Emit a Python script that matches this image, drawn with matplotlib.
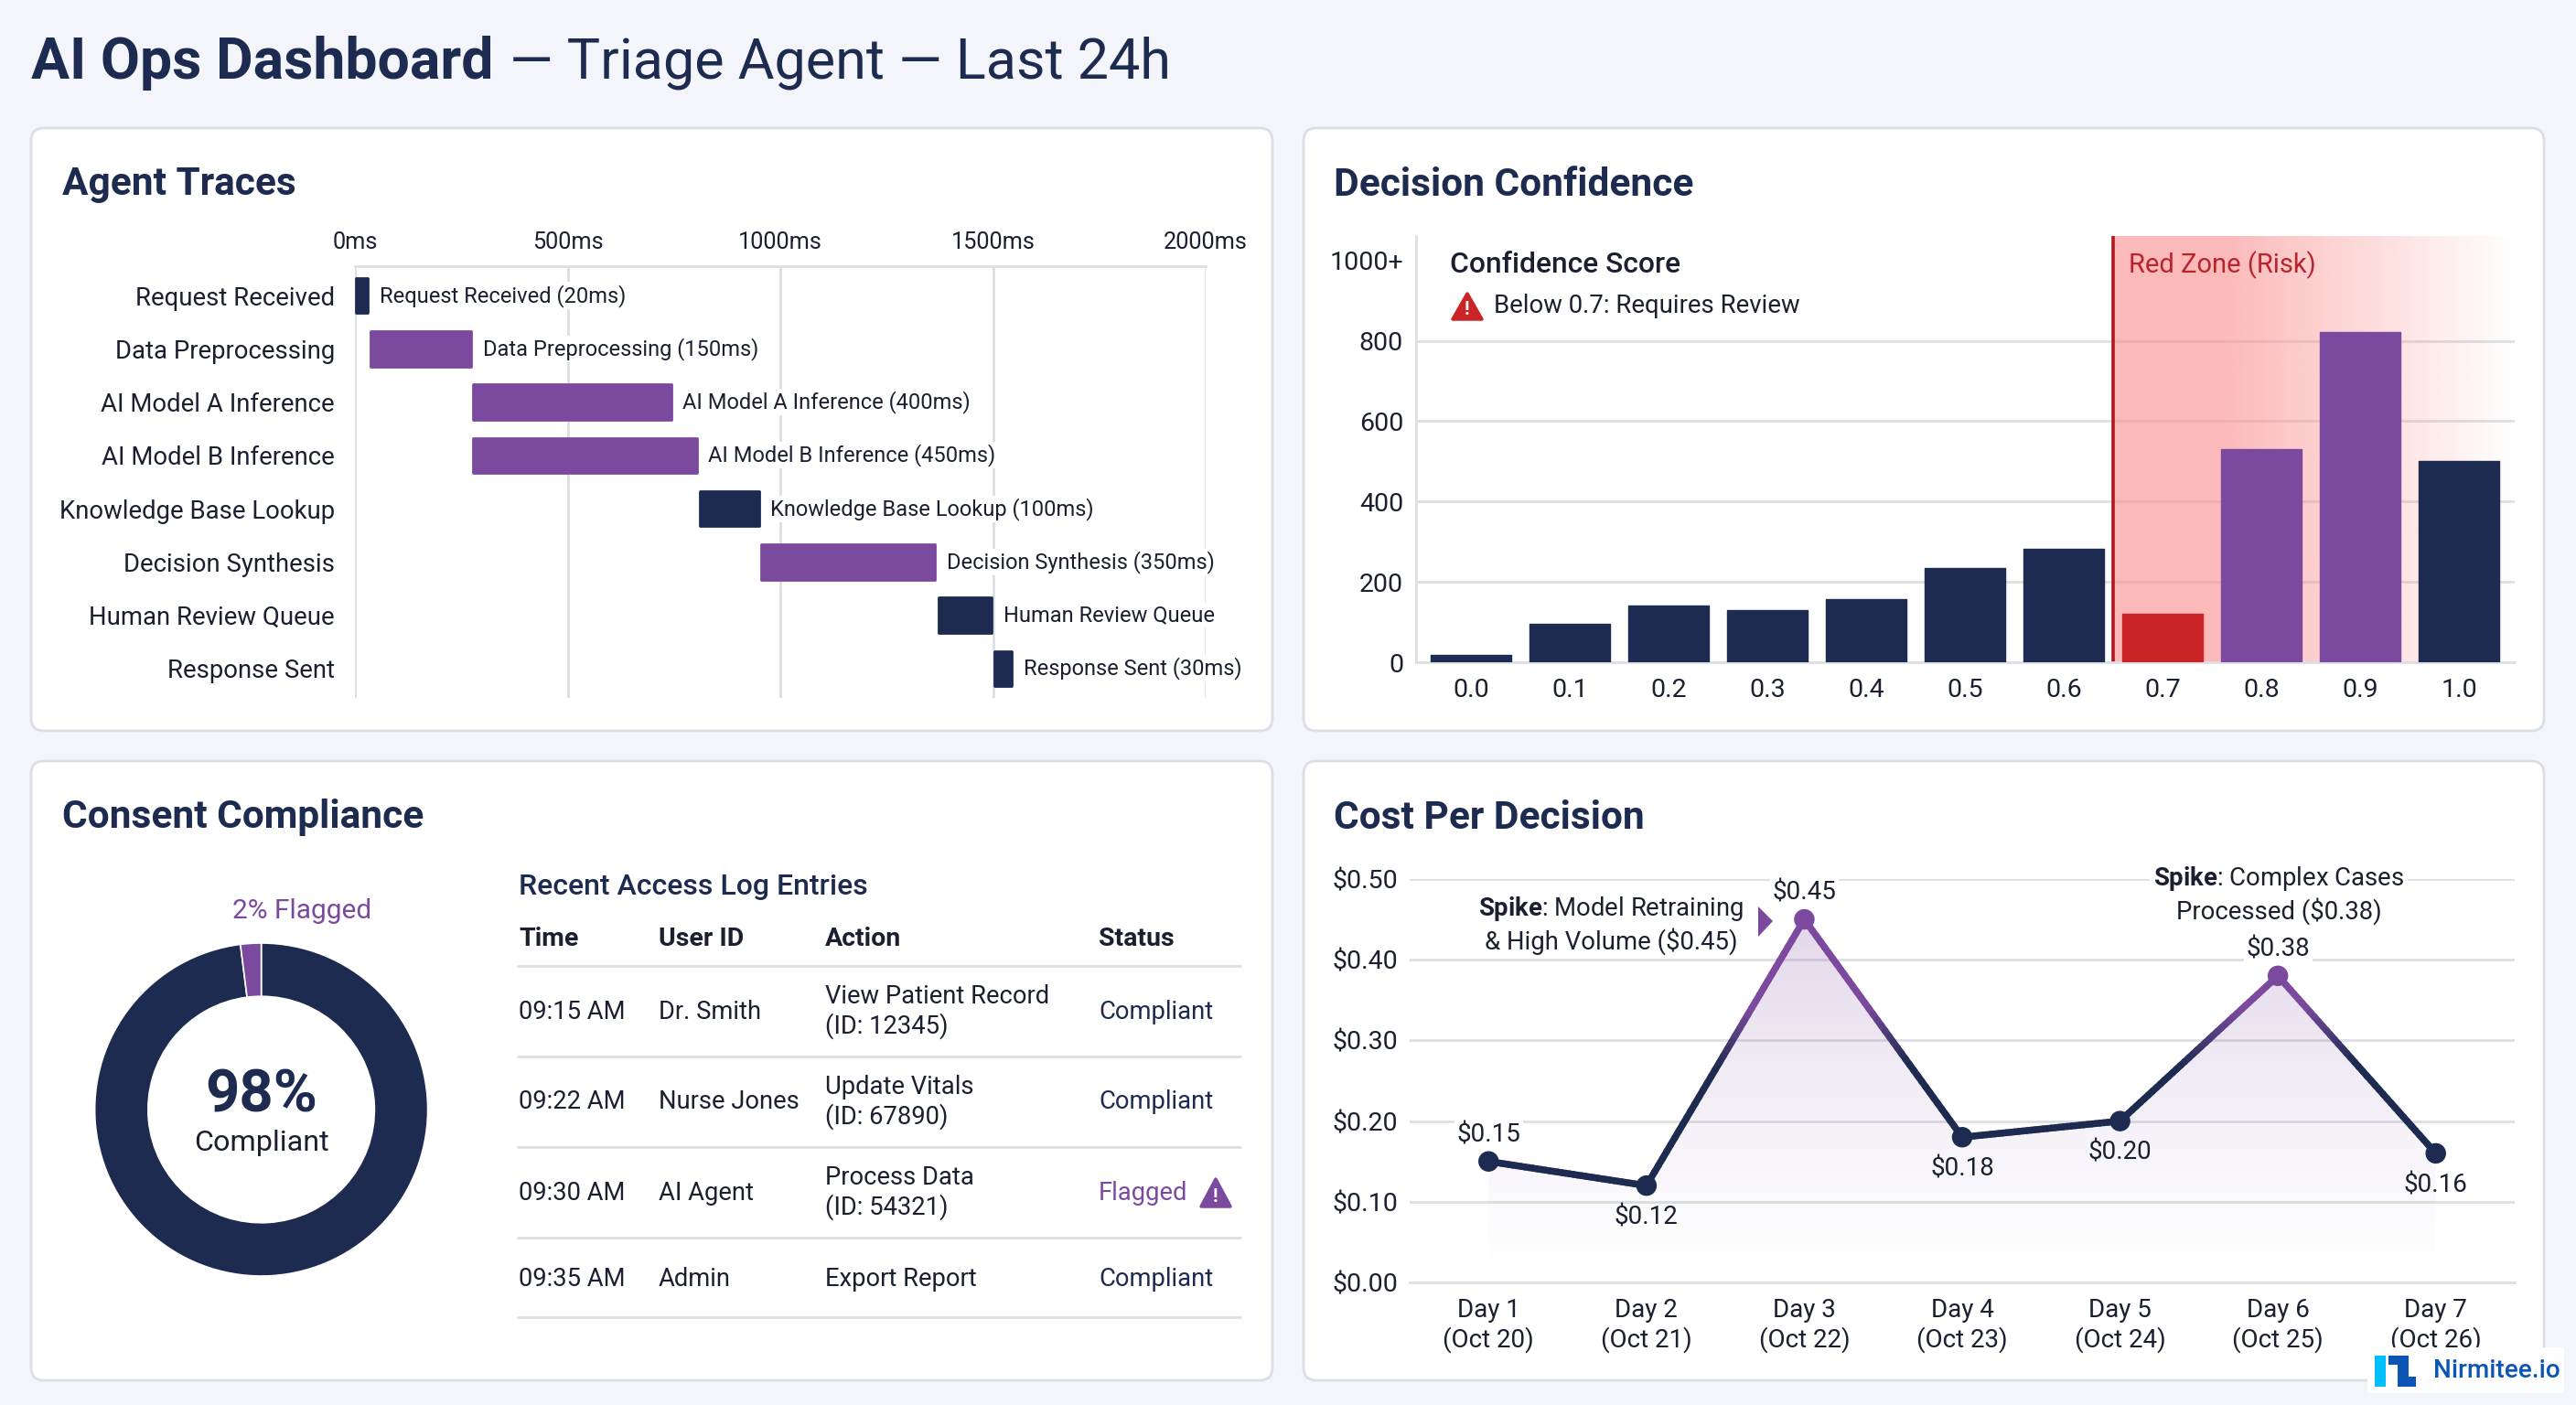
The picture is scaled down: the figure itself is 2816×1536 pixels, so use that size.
"""AI Ops dashboard: traces, confidence histogram, consent compliance, daily cost."""
import numpy as np
import matplotlib
matplotlib.use("Agg")
import matplotlib.pyplot as plt
from matplotlib.collections import LineCollection
from matplotlib.colors import to_rgb
from matplotlib.patches import FancyBboxPatch, Polygon, Rectangle

plt.rcParams["font.family"] = ["Roboto", "DejaVu Sans"]
plt.rcParams["mathtext.fontset"] = "custom"
plt.rcParams["mathtext.rm"] = "Roboto"
plt.rcParams["mathtext.bf"] = "Roboto:bold"

W, H = 2816, 1536
NAVY = "#1E2B50"
PURPLE = "#7B4A9E"
RED = "#CB2427"
DARK = "#1A2030"
GRID = "#DDDFE4"
PAGE = "#F4F5FA"

# Agent traces
trace_steps = ["Request Received", "Data Preprocessing", "AI Model A Inference", "AI Model B Inference",
               "Knowledge Base Lookup", "Decision Synthesis", "Human Review Queue", "Response Sent"]
trace_notes = ["Request Received (20ms)", "Data Preprocessing (150ms)", "AI Model A Inference (400ms)",
               "AI Model B Inference (450ms)", "Knowledge Base Lookup (100ms)", "Decision Synthesis (350ms)",
               "Human Review Queue", "Response Sent (30ms)"]
trace_start = [3, 36, 278, 278, 811, 955, 1373, 1503]
trace_drawn = [28, 238, 466, 526, 139, 409, 124, 42]
trace_kind = ["navy", "purple", "purple", "purple", "navy", "purple", "navy", "navy"]
trace_ticks = [0, 500, 1000, 1500, 2000]

# Decision confidence
conf_bins = [0.0, 0.1, 0.2, 0.3, 0.4, 0.5, 0.6, 0.7, 0.8, 0.9, 1.0]
conf_counts = [18, 95, 141, 129, 158, 234, 282, 121, 530, 822, 500]
conf_colors = [NAVY] * 7 + [RED, PURPLE, PURPLE, NAVY]
conf_ticks = [0, 200, 400, 600, 800, 1000]
conf_tick_labels = ["0", "200", "400", "600", "800", "1000+"]

# Consent compliance
consent_shares = [98, 2]
log_columns = ["Time", "User ID", "Action", "Status"]
log_times = ["09:15 AM", "09:22 AM", "09:30 AM", "09:35 AM"]
log_users = ["Dr. Smith", "Nurse Jones", "AI Agent", "Admin"]
log_actions = ["View Patient Record\n(ID: 12345)", "Update Vitals\n(ID: 67890)",
               "Process Data\n(ID: 54321)", "Export Report"]
log_status = ["Compliant", "Compliant", "Flagged", "Compliant"]

# Cost per decision
cost_days = ["Day 1\n(Oct 20)", "Day 2\n(Oct 21)", "Day 3\n(Oct 22)", "Day 4\n(Oct 23)",
             "Day 5\n(Oct 24)", "Day 6\n(Oct 25)", "Day 7\n(Oct 26)"]
cost_values = [0.15, 0.12, 0.45, 0.18, 0.20, 0.38, 0.16]
cost_label_side = [1, -1, 1, -1, -1, 1, -1]
cost_ticks = [0.0, 0.1, 0.2, 0.3, 0.4, 0.5]


def ax_at(x0, y0, x1, y1, **kw):
    # pixel box (y from the top) -> figure axes
    return fig.add_axes([x0 / W, 1 - y1 / H, (x1 - x0) / W, (y1 - y0) / H], **kw)


def warn_icon(ax, x0, y0, x1, y1, color):
    ax.add_patch(Polygon([((x0 + x1) / 2, y0 + 2), (x1 - 2, y1 - 2), (x0 + 2, y1 - 2)], closed=True,
                         fc=color, ec=color, lw=2.5, joinstyle="round"))
    ax.text((x0 + x1) / 2, y0 + (y1 - y0) * 0.62, "!", color="white", fontsize=15, fontweight="bold",
            ha="center", va="center")


fig = plt.figure(figsize=(W / 100, H / 100), dpi=100, facecolor=PAGE)

# page layer: cards in pixel coordinates
bg = ax_at(0, 0, W, H, zorder=0)
bg.set_xlim(0, W)
bg.set_ylim(H, 0)
bg.axis("off")
for x0, y0, x1, y1 in [(34, 140, 1391, 799), (1425, 140, 2781, 799), (34, 832, 1391, 1509), (1425, 832, 2781, 1509)]:
    bg.add_patch(FancyBboxPatch((x0, y0), x1 - x0, y1 - y0, boxstyle="round,pad=0,rounding_size=14",
                                fc="white", ec="#DCDEE6", lw=2))

# text layer on top of the charts
ov = ax_at(0, 0, W, H, zorder=10)
ov.set_xlim(0, W)
ov.set_ylim(H, 0)
ov.axis("off")
ov.patch.set_alpha(0)

ov.text(34, 69, "AI Ops Dashboard", fontsize=45, fontweight="bold", color=NAVY, va="center")
ov.text(557, 69, "— Triage Agent — Last 24h", fontsize=44, color=NAVY, va="center")
for x, y, s in [(68, 202, "Agent Traces"), (1458, 202, "Decision Confidence"),
                (68, 894, "Consent Compliance"), (1458, 894, "Cost Per Decision")]:
    ov.text(x, y, s, fontsize=30.5, fontweight="bold", color=NAVY, va="center")

# Agent traces
ax = ax_at(388, 291, 1318, 763, zorder=2)
ax.patch.set_alpha(0)
kinds = {"navy": NAVY, "purple": PURPLE}
for i, step in enumerate(trace_steps):
    c = kinds[trace_kind[i]]
    b = ax.barh(i, trace_drawn[i], left=trace_start[i], height=0.66, color=c, edgecolor=c, linewidth=2, zorder=3)
    b[0].set_joinstyle("round")
    ax.annotate(trace_notes[i], (trace_start[i] + trace_drawn[i], i), xytext=(9, 0), textcoords="offset points",
                va="center", fontsize=17, color=DARK, zorder=4,
                bbox=dict(fc="white", ec="none", pad=1.5))
ax.set_xlim(0, 2000)
ax.set_ylim(7.55, -0.55)
ax.set_yticks(range(len(trace_steps)), trace_steps, fontsize=19.8, color=DARK)
ax.set_xticks(trace_ticks, [f"{t}ms" for t in trace_ticks], fontsize=18.2, color=DARK)
ax.xaxis.tick_top()
ax.tick_params(axis="x", length=0, pad=10)
ax.tick_params(axis="y", length=0, pad=16)
ax.grid(axis="x", color=GRID, lw=2, zorder=0)
ax.set_axisbelow(True)
for name in ["left", "right", "bottom"]:
    ax.spines[name].set_visible(False)
ax.spines["top"].set_color(GRID)
ax.spines["top"].set_linewidth(2)

# Decision confidence
ax = ax_at(1548, 258, 2749, 724, zorder=2)
ax.patch.set_alpha(0)
ax.set_xlim(-0.0556, 1.0565)
ax.set_ylim(0, 1061)
ax.set_yticks(conf_ticks, conf_tick_labels, fontsize=20.5, color=DARK)
ax.set_xticks(conf_bins, [f"{b:.1f}" for b in conf_bins], fontsize=20.5, color=DARK)
ax.tick_params(axis="both", length=0)
ax.tick_params(axis="x", pad=12)
ax.tick_params(axis="y", pad=10)
ax.grid(axis="y", color=GRID, lw=2, zorder=0)
ax.yaxis.get_gridlines()[-1].set_visible(False)
ax.set_axisbelow(True)
for name in ["top", "right"]:
    ax.spines[name].set_visible(False)
for name in ["left", "bottom"]:
    ax.spines[name].set_color(GRID)
    ax.spines[name].set_linewidth(2)

# red zone fades out to the right
fade = np.ones((2, 200, 4))
fade[..., :3] = to_rgb("#FB8F8F")
fade[..., 3] = (0.62 * np.clip((1.0 - np.linspace(0, 1, 200)) / 0.72, 0, 1))[None, :]
ax.imshow(fade, extent=[0.65, 1.0565, 0, 1061], aspect="auto", zorder=1, interpolation="bilinear")
ax.set_xlim(-0.0556, 1.0565)
ax.set_ylim(0, 1061)
ax.axvline(0.65, color="#B3161E", lw=2.6, zorder=2)
bars = ax.bar(conf_bins, conf_counts, width=0.081, color=conf_colors, edgecolor=conf_colors, linewidth=1, zorder=3)
for b in bars:
    b.set_joinstyle("round")

ov.text(1585, 290, "Confidence Score", fontsize=22.9, fontweight="medium", color=DARK, va="center")
warn_icon(ov, 1586, 319, 1622, 351, RED)
ov.text(1633, 335, "Below 0.7: Requires Review", fontsize=19.8, color=DARK, va="center")
ov.text(2327, 290, "Red Zone (Risk)", fontsize=21, color="#B8242B", va="center")

# Consent donut
ax = ax_at(285.6 - 182, 1213 - 182, 285.6 + 182, 1213 + 182, zorder=2)
ax.pie(consent_shares, colors=[NAVY, PURPLE], startangle=90, counterclock=False, radius=1,
       wedgeprops=dict(width=0.32, edgecolor="white", linewidth=1.2))
ax.set_xlim(-1, 1)
ax.set_ylim(-1, 1)
ov.text(330, 996, "2% Flagged", fontsize=21.5, color=PURPLE, ha="center", va="center")
ov.text(285.6, 1198, "98%", fontsize=47, fontweight="bold", color=NAVY, ha="center", va="center")
ov.text(285.6, 1250, "Compliant", fontsize=23.2, color=DARK, ha="center", va="center")

# Access log table
col_x = [567, 720, 902, 1201]
row_y = [1106, 1205, 1304, 1398]
ov.text(567, 969, "Recent Access Log Entries", fontsize=23, fontweight="medium", color=NAVY, va="center")
for x, s in zip(col_x, log_columns):
    ov.text(x, 1026, s, fontsize=20.5, fontweight="bold", color=DARK, va="center")
for y in [1056, 1155, 1254, 1353, 1440]:
    ov.plot([565, 1357], [y, y], color=GRID, lw=2, solid_capstyle="butt")
for i, y in enumerate(row_y):
    ov.text(col_x[0], y, log_times[i], fontsize=19.7, color=DARK, va="center")
    ov.text(col_x[1], y, log_users[i], fontsize=19.7, color=DARK, va="center")
    ov.text(col_x[2], y, log_actions[i], fontsize=19.7, color=DARK, va="center", linespacing=1.22)
    flagged = log_status[i] == "Flagged"
    ov.text(col_x[3], y, log_status[i], fontsize=19.7, color=PURPLE if flagged else NAVY, va="center")
    if flagged:
        warn_icon(ov, 1311, y - 17, 1347, y + 17, PURPLE)

# Cost per decision
ax = ax_at(1541, 961, 2749, 1402, zorder=2)
ax.patch.set_alpha(0)
days = np.arange(len(cost_values))
ax.set_xlim(-0.5, 6.5)
ax.set_ylim(0, 0.5)
ax.set_yticks(cost_ticks, [f"\\${t:.2f}" for t in cost_ticks], fontsize=20.5, color=DARK)
ax.set_xticks(days, cost_days, fontsize=20, color=DARK, linespacing=1.2)
ax.tick_params(axis="both", length=0)
ax.tick_params(axis="x", pad=12)
ax.tick_params(axis="y", pad=9)
ax.grid(axis="y", color=GRID, lw=2, zorder=0)
ax.set_axisbelow(True)
for name in ["top", "right", "left"]:
    ax.spines[name].set_visible(False)
ax.spines["bottom"].set_color(GRID)
ax.spines["bottom"].set_linewidth(2)

# area fades towards the baseline
shade = np.ones((256, 2, 4))
shade[..., :3] = to_rgb(PURPLE)
shade[..., 3] = (0.22 * np.linspace(1, 0, 256) ** 1.3)[:, None]
im = ax.imshow(shade, extent=[days[0], days[-1], 0, 0.45], aspect="auto", zorder=1, interpolation="bilinear")
clip = Polygon(list(zip(days, cost_values)) + [(days[-1], 0), (days[0], 0)], closed=True,
               transform=ax.transData, fc="none", ec="none")
ax.add_patch(clip)
im.set_clip_path(clip)
ax.set_xlim(-0.5, 6.5)
ax.set_ylim(0, 0.5)

# line colour turns purple near the peaks
segs, seg_cols = [], []
nv, pu = np.array(to_rgb(NAVY)), np.array(to_rgb(PURPLE))
for i in range(len(days) - 1):
    sx = np.linspace(days[i], days[i + 1], 40)
    sy = np.linspace(cost_values[i], cost_values[i + 1], 40)
    for k in range(39):
        t = np.clip(((sy[k] + sy[k + 1]) / 2 - 0.27) / 0.07, 0, 1)
        segs.append([(sx[k], sy[k]), (sx[k + 1], sy[k + 1])])
        seg_cols.append(nv + (pu - nv) * t)
ax.add_collection(LineCollection(segs, colors=seg_cols, linewidths=5.4, capstyle="round", zorder=3))
pt_cols = [PURPLE if v > 0.3 else NAVY for v in cost_values]
ax.scatter(days, cost_values, s=230, c=pt_cols, zorder=4, clip_on=False)
for i, v in enumerate(cost_values):
    ax.annotate(f"\\${v:.2f}", (days[i], v), xytext=(0, 23 * cost_label_side[i] - 2), textcoords="offset points",
                ha="center", va="center", fontsize=20, color=DARK, zorder=5,
                bbox=dict(fc="white", ec="none", pad=2, alpha=0.0 if cost_label_side[i] < 0 else 1))

ov.text(1761, 1011, "$\\mathbf{Spike}$: Model Retraining\n& High Volume (\\$0.45)", fontsize=19.8, color=DARK,
        ha="center", va="center", linespacing=1.22, bbox=dict(fc="white", ec="none", pad=3))
ov.add_patch(Polygon([(1922, 991), (1938, 1007), (1922, 1024)], closed=True, fc=PURPLE, ec="none"))
ov.text(2491, 978, "$\\mathbf{Spike}$: Complex Cases\nProcessed (\\$0.38)", fontsize=19.8, color=DARK,
        ha="center", va="center", linespacing=1.22, bbox=dict(fc="white", ec="none", pad=3))

# logo
ov.add_patch(Rectangle((2588, 1473), 215, 50, fc="white", ec="none", alpha=0.95))
ov.add_patch(Rectangle((2596, 1482), 11.5, 34, fc="#00BFFF", ec="none"))
ov.add_patch(Polygon([(2611, 1482), (2633, 1482), (2633, 1505), (2641, 1505), (2641, 1516), (2621, 1516),
                      (2621, 1492), (2611, 1492)], closed=True, fc="#0B55B5", ec="none"))
ov.text(2660, 1499, "Nirmitee.io", fontsize=20.2, fontweight="medium", color="#0B55B5", va="center")

fig.savefig("out.png", dpi=100, facecolor=PAGE)
